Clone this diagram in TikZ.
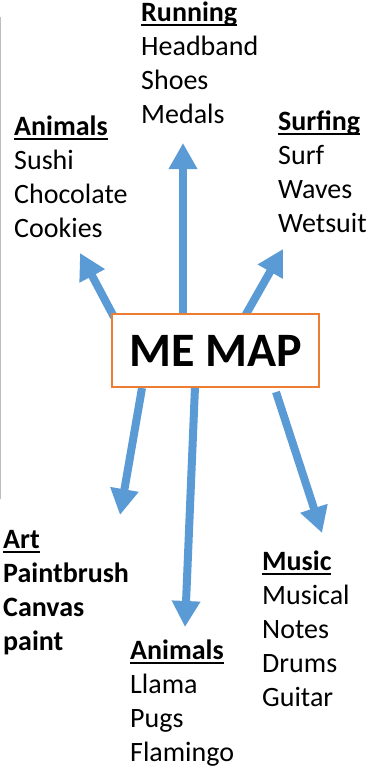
\documentclass[tikz,border=0pt]{standalone}
\usepackage{fontspec}
\setmainfont{Carlito}
\usetikzlibrary{arrows.meta}
\definecolor{arrowblue}{HTML}{5B9BD5}
\definecolor{boxorange}{HTML}{ED7D31}
\definecolor{framegray}{HTML}{BDBDBD}
\newsavebox{\ulbox}
\newcommand{\ulhead}[1]{\sbox{\ulbox}{\bfseries #1}\rlap{\rule[-5pt]{\wd\ulbox}{2pt}}\usebox{\ulbox}}
\begin{document}
\begin{tikzpicture}[x=1pt,y=-1pt,
  arr/.style={draw=arrowblue, line width=8pt, -{Triangle[length=26pt,width=27pt]}},
  grp/.style={anchor=base west, inner sep=0pt, align=left, font=\fontsize{28}{34}\selectfont},
  mebox/.style={draw=boxorange, line width=2pt, fill=white, minimum width=207pt, minimum height=73pt, inner sep=0pt, font=\fontsize{48}{58}\selectfont\bfseries}
]
\useasboundingbox (0,0) rectangle (367,769);
\fill[white] (0,0) rectangle (367,769);
\draw[framegray, line width=1.2pt] (0.6,17) -- (0.6,499);

% arrow end points
\coordinate (s1) at (114,317);
\coordinate (t1) at (80,253);
\coordinate (s2) at (183,315);
\coordinate (t2) at (183,143);
\coordinate (s3) at (245,316);
\coordinate (t3) at (283,249);
\coordinate (s4) at (142,388);
\coordinate (t4) at (120,515);
\coordinate (s5) at (195,387);
\coordinate (t5) at (185,627);
\coordinate (s6) at (276,392);
\coordinate (t6) at (322,533);

\draw[arr] (s1) -- (t1);
\draw[arr] (s2) -- (t2);
\draw[arr] (s3) -- (t3);
\draw[arr] (s4) -- (t4);
\draw[arr] (s5) -- (t5);
\draw[arr] (s6) -- (t6);

\node[mebox] (me) at (215.5,350.5) {ME MAP};

% anchors are at the baseline of the last line
\node[grp] (running) at (141,123) {\ulhead{Running}\\Headband\\Shoes\\Medals};
\node[grp] (food) at (14,237) {\ulhead{Animals}\\Sushi\\Chocolate\\Cookies};
\node[grp] (surfing) at (278,232) {\ulhead{Surfing}\\Surf\\Waves\\Wetsuit};
\node[grp, font=\fontsize{28}{34}\selectfont\bfseries] (art) at (3,650) {\ulhead{Art}\\Paintbrush\\Canvas\\paint};
\node[grp] (music) at (262,706) {\ulhead{Music}\\Musical\\Notes\\Drums\\Guitar};
\node[grp] (animals) at (130,761) {\ulhead{Animals}\\Llama\\Pugs\\Flamingo};
\end{tikzpicture}
\end{document}
